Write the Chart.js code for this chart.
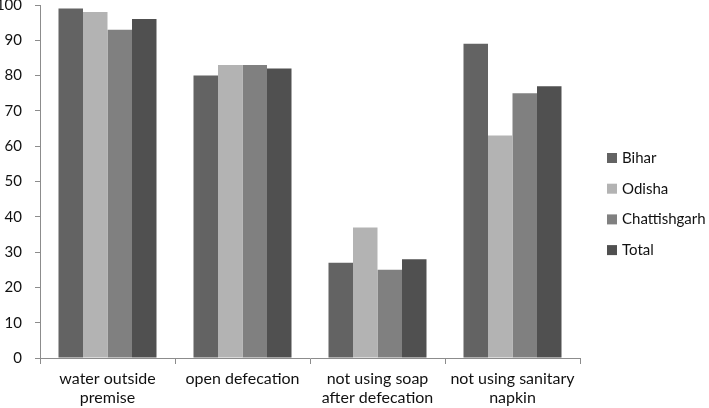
<!DOCTYPE html>
<html>
<head>
<meta charset="utf-8">
<script src="https://cdn.jsdelivr.net/npm/chart.js@4/dist/chart.umd.min.js"></script>
<style>
  html, body { margin: 0; padding: 0; background: #fff; }
  canvas { display: block; }
</style>
</head>
<body>
<canvas id="chart" width="709" height="408"></canvas>
<script>
const categories = [
    ['water outside', 'premise'],
    ['open defecation'],
    ['not using soap', 'after defecation'],
    ['not using sanitary', 'napkin']
];
const bihar = [99, 80, 27, 89];
const odisha = [98, 83, 37, 63];
const chattishgarh = [93, 83, 25, 75];
const total = [96, 82, 28, 77];
const yTicks = [0, 10, 20, 30, 40, 50, 60, 70, 80, 90, 100];

const FONT = 'Lato, "Open Sans", sans-serif';
const TEXT = '#111';
const AXIS = '#8c8c8c';

// legend drawn by hand so it can sit where the original one sits
const sideLegend = {
    id: 'sideLegend',
    afterDraw(chart){
        const ctx = chart.ctx;
        const x = 607;
        const y0 = 157;
        const gap = 30.7;
        ctx.save();
        ctx.font = '15px ' + FONT;
        ctx.textBaseline = 'middle';
        ctx.textAlign = 'left';
        chart.data.datasets.forEach((ds, i) => {
            const y = y0 + i * gap;
            ctx.fillStyle = ds.backgroundColor;
            ctx.fillRect(x, y - 4, 10, 10);
            ctx.fillStyle = TEXT;
            ctx.fillText(ds.label, x + 15, y + 1);
        });
        ctx.restore();
    }
};

new Chart('chart', {
    type: 'bar',
    data: {
        labels: categories,
        datasets: [
            { label: 'Bihar', data: bihar, backgroundColor: '#636363' },
            { label: 'Odisha', data: odisha, backgroundColor: '#b3b3b3' },
            { label: 'Chattishgarh', data: chattishgarh, backgroundColor: '#808080' },
            { label: 'Total', data: total, backgroundColor: '#505050' }
        ]
    },
    options: {
        responsive: false,
        animation: false,
        layout: { padding: { top: 5, right: 129, left: 0, bottom: 0 } },
        datasets: {
            bar: { categoryPercentage: 0.726, barPercentage: 1, borderWidth: 0 }
        },
        plugins: {
            legend: { display: false },
            tooltip: { enabled: false }
        },
        scales: {
            x: {
                grid: { display: true, drawOnChartArea: false, drawTicks: true, tickLength: 6, color: AXIS, offset: true },
                border: { color: AXIS, width: 1 },
                ticks: { color: TEXT, font: { family: FONT, size: 16, lineHeight: 1.2 }, maxRotation: 0, autoSkip: false, padding: 5 },
                afterFit(scale){
                    scale.height = 50;
                    scale.paddingLeft = 0;
                    scale.paddingRight = 0;
                }
            },
            y: {
                min: 0,
                max: 100,
                afterBuildTicks(scale){ scale.ticks = yTicks.map(v => ({ value: v })); },
                grid: { display: true, drawOnChartArea: false, drawTicks: true, tickLength: 5, color: AXIS },
                border: { color: AXIS, width: 1 },
                ticks: { color: TEXT, font: { family: FONT, size: 15 }, padding: 13 },
                afterFit(scale){
                    scale.width = 40;
                    scale.paddingTop = 0;
                    scale.paddingBottom = 0;
                }
            }
        }
    },
    plugins: [sideLegend]
});
</script>
</body>
</html>
